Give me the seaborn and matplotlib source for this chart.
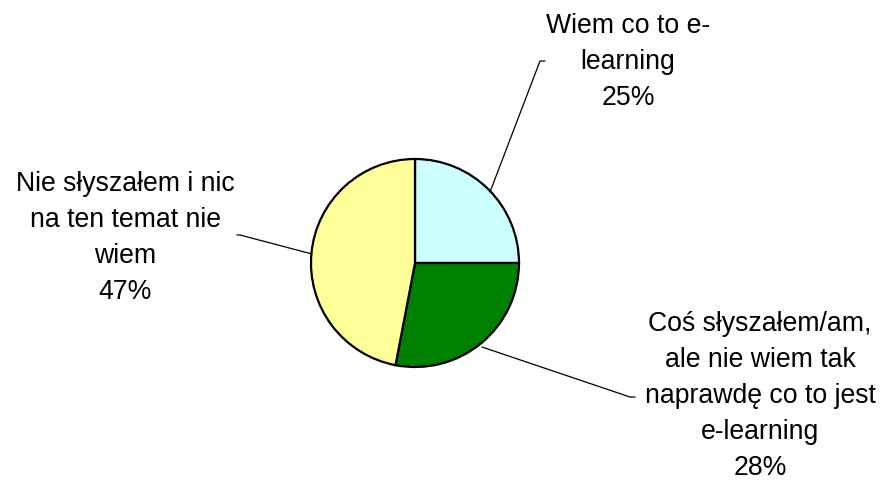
import matplotlib
matplotlib.use("Agg")
import matplotlib.pyplot as plt
import seaborn as sns

labels = ["Wiem co to e-\nlearning", "Coś słyszałem/am,\nale nie wiem tak\nnaprawdę co to jest\ne-learning", "Nie słyszałem i nic\nna ten temat nie\nwiem"]
values = [25, 28, 47]
colors = ["#CCFFFF", "#008000", "#FFFF99"]

sns.set_theme(style="white")
plt.rcParams['font.family'] = ['Liberation Sans', 'DejaVu Sans']

W, H = 889, 480
fig = plt.figure(figsize=(W / 100, H / 100), dpi=100)
ax = fig.add_axes([0, 0, 1, 1])
ax.set_axis_off()

cx, cy, r = 415, H - 263, 104
ax.pie(values, colors=colors, startangle=90, counterclock=False,
       center=(cx, cy), radius=r,
       wedgeprops=dict(edgecolor="black", linewidth=1.6))
ax.set_xlim(0, W)
ax.set_ylim(0, H)
ax.set_aspect("equal")

# label positions (pixel coords, top-down) and leader lines
texts = [
    (628, 62, labels[0] + f"\n{values[0]}%"),
    (760, 396, labels[1] + f"\n{values[1]}%"),
    (125, 238, labels[2] + f"\n{values[2]}%"),
]
for x, y, t in texts:
    ax.text(x, H - y, t, ha="center", va="center", fontsize=19.2,
            linespacing=1.5, color="black")

leaders = [
    [(490, 192), (540, 61), (545, 61)],
    [(482, 347), (630, 397), (635, 397)],
    [(312, 254), (240, 235), (237, 235)],
]
for pts in leaders:
    xs = [p[0] for p in pts]
    ys = [H - p[1] for p in pts]
    ax.plot(xs, ys, color="black", linewidth=0.9)

fig.savefig("out.png", dpi=100)
